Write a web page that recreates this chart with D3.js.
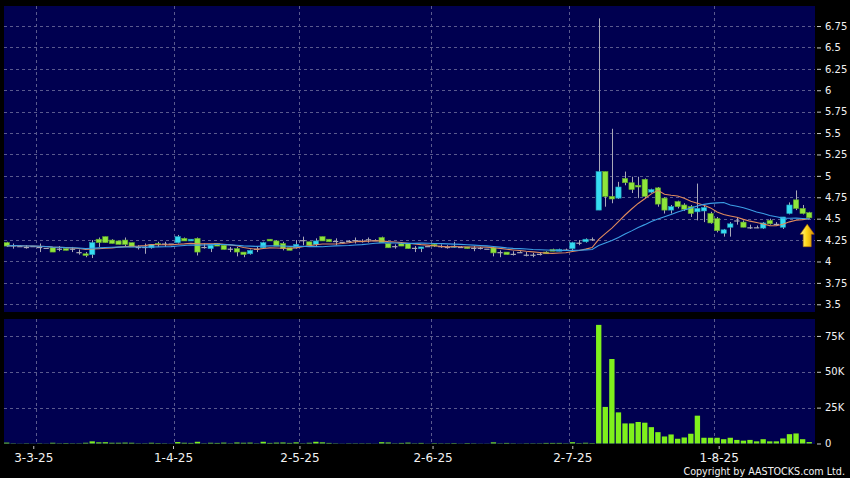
<!DOCTYPE html>
<html><head><meta charset="utf-8">
<script src="https://cdn.jsdelivr.net/npm/d3@7"></script>
<style>html,body{margin:0;padding:0;background:#000;}svg{display:block;}</style>
</head><body>
<svg id="chart" width="850" height="478"></svg>
<script>
// ---- data (trading-day index 0 = 24-2-25) ----
const opens = [4.22,4.19,4.18,4.17,4.18,4.17,4.16,4.16,4.15,4.15,4.15,4.11,4.09,4.08,4.26,4.29,4.25,4.24,4.25,4.22,
4.17,4.17,4.16,4.21,4.21,4.21,4.22,4.27,4.24,4.27,4.17,4.15,4.21,4.19,4.15,4.15,4.11,4.09,4.15,4.16,
4.26,4.24,4.21,4.16,4.16,4.25,4.23,4.20,4.29,4.26,4.24,4.23,4.24,4.25,4.24,4.26,4.25,4.28,4.21,4.18,
4.21,4.21,4.16,4.15,4.18,4.20,4.18,4.17,4.17,4.17,4.17,4.16,4.16,4.15,4.16,4.11,4.11,4.09,4.11,4.08,
4.08,4.09,4.11,4.14,4.12,4.14,4.15,4.22,4.23,4.26,
4.60,5.05,4.76,4.74,4.97,4.92,4.89,4.96,4.81,4.86,4.74,4.60,4.70,4.66,4.64,4.58,4.59,4.56,4.50,4.33,
4.40,4.48,4.46,4.40,4.40,4.39,4.48,4.44,4.40,4.56,4.72,4.62,4.57];
const highs = [4.23,4.21,4.19,4.19,4.18,4.21,4.16,4.16,4.18,4.15,4.17,4.14,4.11,4.25,4.28,4.29,4.26,4.24,4.28,4.22,
4.19,4.21,4.20,4.23,4.23,4.21,4.31,4.28,4.26,4.28,4.21,4.20,4.21,4.19,4.17,4.17,4.11,4.14,4.17,4.23,
4.26,4.25,4.23,4.16,4.25,4.29,4.23,4.27,4.29,4.26,4.27,4.23,4.25,4.28,4.26,4.28,4.26,4.29,4.21,4.20,
4.22,4.21,4.18,4.17,4.18,4.21,4.20,4.19,4.23,4.18,4.17,4.18,4.17,4.15,4.17,4.13,4.11,4.12,4.12,4.11,
4.10,4.11,4.12,4.15,4.15,4.15,4.23,4.25,4.27,4.28,
6.84,5.05,5.55,4.93,5.05,4.99,4.99,4.97,4.85,4.87,4.75,4.66,4.71,4.68,4.66,4.91,4.65,4.58,4.52,4.38,
4.46,4.52,4.48,4.43,4.42,4.46,4.50,4.46,4.52,4.69,4.83,4.66,4.58];
const lows = [4.17,4.15,4.18,4.15,4.18,4.11,4.16,4.11,4.12,4.13,4.11,4.08,4.05,4.04,4.17,4.22,4.21,4.20,4.17,4.17,
4.14,4.09,4.15,4.17,4.17,4.21,4.21,4.24,4.24,4.07,4.15,4.11,4.18,4.14,4.11,4.06,4.05,4.08,4.11,4.15,
4.24,4.18,4.13,4.13,4.15,4.19,4.19,4.18,4.24,4.23,4.19,4.23,4.22,4.21,4.22,4.22,4.24,4.22,4.16,4.15,
4.18,4.15,4.11,4.11,4.18,4.17,4.16,4.15,4.16,4.16,4.15,4.12,4.14,4.15,4.06,4.05,4.08,4.07,4.10,4.06,
4.05,4.07,4.09,4.12,4.12,4.13,4.13,4.19,4.22,4.24,
4.60,4.64,4.68,4.73,4.89,4.80,4.74,4.74,4.80,4.64,4.56,4.56,4.62,4.59,4.52,4.48,4.46,4.44,4.34,4.29,
4.29,4.43,4.40,4.38,4.39,4.38,4.43,4.42,4.38,4.55,4.60,4.55,4.50];
const closes = [4.18,4.19,4.18,4.17,4.18,4.17,4.16,4.11,4.15,4.13,4.15,4.11,4.07,4.22,4.22,4.22,4.21,4.20,4.20,4.17,
4.17,4.17,4.20,4.20,4.21,4.21,4.29,4.24,4.26,4.11,4.17,4.19,4.18,4.14,4.15,4.11,4.08,4.13,4.15,4.22,
4.24,4.18,4.15,4.13,4.20,4.25,4.19,4.24,4.24,4.23,4.24,4.23,4.24,4.25,4.24,4.26,4.25,4.22,4.16,4.18,
4.18,4.15,4.16,4.17,4.18,4.18,4.18,4.17,4.18,4.17,4.15,4.16,4.16,4.15,4.10,4.11,4.08,4.09,4.11,4.08,
4.08,4.09,4.09,4.12,4.14,4.14,4.22,4.22,4.26,4.26,
5.05,4.76,4.73,4.87,4.92,4.84,4.87,4.76,4.84,4.67,4.60,4.64,4.64,4.61,4.56,4.62,4.63,4.45,4.36,4.37,
4.44,4.48,4.40,4.40,4.40,4.45,4.44,4.44,4.52,4.66,4.62,4.56,4.51];
const volumes = [600,200,100,200,100,200,100,500,200,300,200,200,500,1500,800,900,500,500,600,500,
200,200,500,300,200,100,1000,500,400,1200,200,500,400,600,200,700,500,600,200,1200,
400,600,700,400,800,200,500,1200,800,400,200,100,200,200,200,200,100,900,700,200,
400,600,200,400,100,300,200,200,300,100,300,200,100,100,800,200,400,200,100,200,
200,200,400,400,400,200,900,300,500,300,
82700,25500,58900,21700,14000,14000,15000,14500,11400,7900,4900,6300,3300,4200,6800,19400,4000,4000,4000,3000,
4000,2500,2000,2500,1500,3000,1500,1500,3500,6500,7000,3000,1000];
const maPeriods = [10, 20];
const tickIndex = [5, 26, 45, 65, 86, 108];   // first trading day of each month
const tickLabels = ["3-3-25", "1-4-25", "2-5-25", "2-6-25", "2-7-25", "1-8-25"];
const priceTicks = [3.5,3.75,4,4.25,4.5,4.75,5,5.25,5.5,5.75,6,6.25,6.5,6.75];
const priceTickLabels = ["3.5","3.75","4","4.25","4.5","4.75","5","5.25","5.5","5.75","6","6.25","6.5","6.75"];
const volTicks = [0, 25000, 50000, 75000];
const volTickLabels = ["0", "25K", "50K", "75K"];

// ---- layout ----
const svg = d3.select("#chart");
const panelL = 4, panelR = 815;
const pTop = 6, pBot = 312, vTop = 319, vBot = 444;
const C_UP = "#36dcf2", C_DN = "#8fe53b", C_FLAT = "#a9a9b4", WICK = "#a9a9b8";
const GRID = "#5a5a8e";

const n = closes.length;
const idx = d3.range(n);
const x = d3.scaleBand().domain(idx).range([3.41, 3.41 + 6.578 * n]).paddingInner(0.19).paddingOuter(0.095);
const cx = i => x(i) + x.bandwidth() / 2;
const slotLeft = i => x(i) - x.step() * x.paddingOuter();
// date-axis scale (ticks at slot starts)
const xt = d3.scaleLinear().domain([0, n]).range([0, 818.5]);
const y = d3.scaleLinear().domain([3.41, 6.984]).range([pBot, pTop]);
const yv = d3.scaleLinear().domain([-350, 86800]).range([vBot, vTop]);

svg.append("rect").attr("width", 850).attr("height", 478).attr("fill", "#000");
svg.append("rect").attr("x", panelL).attr("y", pTop).attr("width", panelR - panelL).attr("height", pBot - pTop).attr("fill", "#000050");
svg.append("rect").attr("x", panelL).attr("y", vTop).attr("width", panelR - panelL).attr("height", vBot - vTop).attr("fill", "#000050");

const defs = svg.append("defs");
defs.append("clipPath").attr("id", "cp").append("rect").attr("x", panelL).attr("y", pTop).attr("width", panelR - panelL).attr("height", pBot - pTop);
defs.append("clipPath").attr("id", "cv").append("rect").attr("x", panelL).attr("y", vTop).attr("width", panelR - panelL).attr("height", vBot - vTop);
const grad = defs.append("linearGradient").attr("id", "arrowGrad").attr("x1", "0").attr("x2", "1").attr("y1", "0").attr("y2", "0");
grad.append("stop").attr("offset", "0").attr("stop-color", "#fff8a0");
grad.append("stop").attr("offset", "0.45").attr("stop-color", "#ffd81a");
grad.append("stop").attr("offset", "1").attr("stop-color", "#d98c00");

// grid
const g = svg.append("g").attr("shape-rendering", "crispEdges");
g.selectAll(".hg").data(priceTicks).join("line")
  .attr("x1", panelL).attr("x2", panelR).attr("y1", d => Math.round(y(d)) + 0.5).attr("y2", d => Math.round(y(d)) + 0.5)
  .attr("stroke", GRID).attr("stroke-dasharray", "3,3");
g.selectAll(".vg").data(volTicks.slice(1)).join("line")
  .attr("x1", panelL).attr("x2", panelR).attr("y1", d => Math.round(yv(d)) + 0.5).attr("y2", d => Math.round(yv(d)) + 0.5)
  .attr("stroke", GRID).attr("stroke-dasharray", "3,3");
[[pTop, pBot], [vTop, vBot]].forEach(([t, b]) => {
  g.selectAll(null).data(tickIndex).join("line")
    .attr("x1", d => Math.round(slotLeft(d)) + 0.5).attr("x2", d => Math.round(slotLeft(d)) + 0.5).attr("y1", t).attr("y2", b)
    .attr("stroke", GRID).attr("stroke-dasharray", "3,3");
});

// volume bars
svg.append("g").attr("clip-path", "url(#cv)").selectAll("rect").data(idx).join("rect")
  .attr("x", i => x(i)).attr("width", x.bandwidth())
  .attr("y", i => yv(volumes[i])).attr("height", i => yv(0) - yv(volumes[i]))
  .attr("fill", "#7ff01c");

// moving averages (simple, of closes)
const ma = p => idx.map(i => d3.mean(closes.slice(Math.max(0, i - p + 1), i + 1)));
const maColors = ["#e08a5c", "#3c9fe6"];
const lineGen = d3.line().x((d, i) => cx(i)).y(d => y(d));
const gp = svg.append("g").attr("clip-path", "url(#cp)");

// candles
const cg = gp.append("g");
cg.selectAll(".wick").data(idx).join("line")
  .attr("x1", i => Math.round(cx(i)) + 0.5).attr("x2", i => Math.round(cx(i)) + 0.5)
  .attr("y1", i => y(highs[i])).attr("y2", i => y(lows[i]))
  .attr("stroke", WICK).attr("stroke-width", 1);
cg.selectAll(".body").data(idx).join("rect")
  .attr("x", i => x(i)).attr("width", x.bandwidth())
  .attr("y", i => y(Math.max(opens[i], closes[i])))
  .attr("height", i => Math.max(1.2, Math.abs(y(opens[i]) - y(closes[i]))))
  .attr("fill", i => closes[i] > opens[i] ? C_UP : closes[i] < opens[i] ? C_DN : C_FLAT)
  .attr("stroke", i => closes[i] > opens[i] ? "#1f9fb8" : closes[i] < opens[i] ? "#5fa82a" : "none")
  .attr("stroke-width", 0.6);

maPeriods.forEach((p, k) => {
  gp.append("path").datum(ma(p)).attr("d", lineGen).attr("fill", "none")
    .attr("stroke", maColors[k]).attr("stroke-width", 1.1);
});

// arrow marker under latest candle
const last = n - 1;
const ax = cx(last) - 2, ay = y(lows[last]) + 5.5;
svg.append("path")
  .attr("d", `M${ax},${ay} L${ax + 7},${ay + 10} L${ax + 4},${ay + 10} L${ax + 4},${ay + 22.5} L${ax - 4},${ay + 22.5} L${ax - 4},${ay + 10} L${ax - 7},${ay + 10} Z`)
  .attr("fill", "url(#arrowGrad)").attr("stroke", "#b87800").attr("stroke-width", 0.6);

// axes
const fontY = "DejaVu Sans, Verdana, sans-serif";
const ay1 = svg.append("g").attr("transform", `translate(817,0)`)
  .call(d3.axisRight(y).tickValues(priceTicks).tickFormat((d, i) => priceTickLabels[i]).tickSize(4).tickPadding(4));
const ay2 = svg.append("g").attr("transform", `translate(817,0)`)
  .call(d3.axisRight(yv).tickValues(volTicks).tickFormat((d, i) => volTickLabels[i]).tickSize(4).tickPadding(4));
const axb = svg.append("g").attr("transform", `translate(0,${vBot + 2})`)
  .call(d3.axisBottom(xt).tickValues(tickIndex).tickFormat((d, i) => tickLabels[i]).tickSize(3).tickPadding(4.5));
[ay1, ay2].forEach(a => {
  a.select(".domain").remove();
  a.selectAll("line").attr("stroke", "#c8c8c8");
  a.selectAll("text").attr("fill", "#f2f2f2").attr("font-family", fontY).attr("font-size", 10);
});
axb.select(".domain").remove();
axb.selectAll("line").attr("stroke", "#c8c8c8");
axb.selectAll("text").attr("fill", "#f2f2f2").attr("font-family", fontY).attr("font-size", 12);

svg.append("text").attr("x", 845).attr("y", 475).attr("text-anchor", "end")
  .attr("fill", "#f2f2f2").attr("font-family", fontY).attr("font-size", 9.6)
  .text("Copyright by AASTOCKS.com Ltd.");
</script>
</body></html>
